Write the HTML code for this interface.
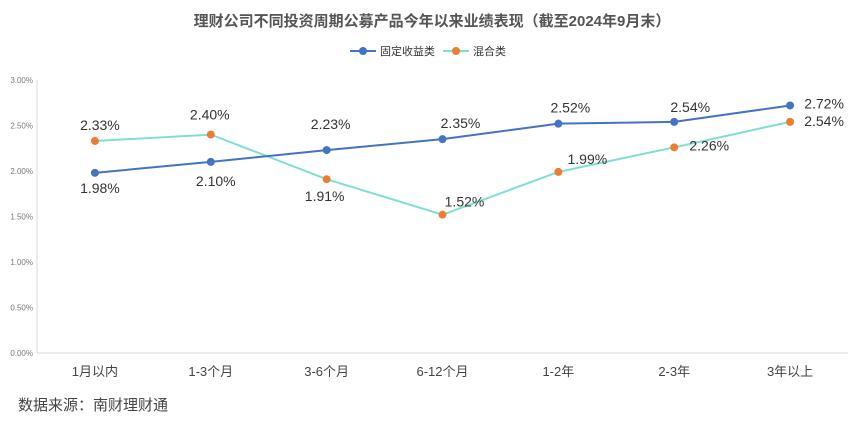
<!DOCTYPE html>
<html><head><meta charset="utf-8"><style>
body{margin:0;background:#fff;}
svg text{font-family:"Liberation Sans","Noto Sans CJK SC",sans-serif;}
</style></head><body>
<svg width="864" height="421" xmlns="http://www.w3.org/2000/svg" id="c">
<text x="432" y="26" text-anchor="middle" font-size="15" font-weight="bold" fill="#555">理财公司不同投资周期公募产品今年以来业绩表现（截至2024年9月末）</text>
<g>
<g><line x1="350" y1="51" x2="376" y2="51" stroke="#4472c4" stroke-width="2"/><circle cx="363" cy="51" r="4" fill="#4472c4"/><text x="380" y="55" font-size="11" fill="#333">固定收益类</text></g>
<g><line x1="443" y1="51" x2="469" y2="51" stroke="#7fdfd4" stroke-width="2"/><circle cx="456" cy="51" r="4" fill="#ed7d31"/><text x="473" y="55" font-size="11" fill="#333">混合类</text></g>
</g>
<line x1="37" y1="80" x2="37" y2="353" stroke="#d9d9d9"/>
<line x1="37" y1="353" x2="848" y2="353" stroke="#d9d9d9"/>
<g id="yt"></g><g id="xt"></g><g id="series"></g>
<text x="18" y="410" font-size="15" fill="#444">数据来源：南财理财通</text>
</svg>
<script>
const categories=["1月以内","1-3个月","3-6个月","6-12个月","1-2年","2-3年","3年以上"];
const fixedIncome=[1.98,2.10,2.23,2.35,2.52,2.54,2.72];
const mixed=[2.33,2.40,1.91,1.52,1.99,2.26,2.54];
const yTicks=[0,0.5,1,1.5,2,2.5,3];
const fixedLabelOff=[[5,20],[5,24],[4,-21],[18,-11],[12,-11],[16,-10],[34,3]];
const mixedLabelOff=[[5,-11],[-1,-15],[-2,22],[22,-8],[29,-8],[35,3],[34,4]];
const NS="http://www.w3.org/2000/svg";
const x0=37,x1=848,y0=353,y1=80;
const band=(x1-x0)/categories.length;
const xs=i=>x0+band*(i+0.5);
const ys=v=>y0-(v/3)*(y0-y1);
function mk(tag,attrs,parent){const e=document.createElementNS(NS,tag);for(const k in attrs)e.setAttribute(k,attrs[k]);parent.appendChild(e);return e;}
const yt=document.getElementById('yt'),xt=document.getElementById('xt'),sg=document.getElementById('series');
yTicks.forEach(v=>{const t=mk('text',{x:33,y:ys(v)+3,'text-anchor':'end','font-size':8,fill:'#777'},yt);


t.textContent=v.toFixed(2)+'%';});
categories.forEach((c,i)=>{const t=mk('text',{x:xs(i),y:376,'text-anchor':'middle','font-size':13,fill:'#444'},xt);


t.textContent=c;});
function series(vals,line,dot,offs,name){
const p=mk('polyline',{points:vals.map((v,i)=>xs(i)+','+ys(v)).join(' '),fill:'none',stroke:line,'stroke-width':2},sg);


vals.forEach((v,i)=>{const c=mk('circle',{cx:xs(i),cy:ys(v),r:4,fill:dot},sg);


const t=mk('text',{x:xs(i)+offs[i][0],y:ys(v)+offs[i][1],'text-anchor':'middle','font-size':14,fill:'#333'},sg);


t.textContent=v.toFixed(2)+'%';});
}
series(mixed,'#7fdfd4','#ed7d31',mixedLabelOff,'mixed');
series(fixedIncome,'#4472c4','#4472c4',fixedLabelOff,'fixed-income');
</script>
</body></html>
